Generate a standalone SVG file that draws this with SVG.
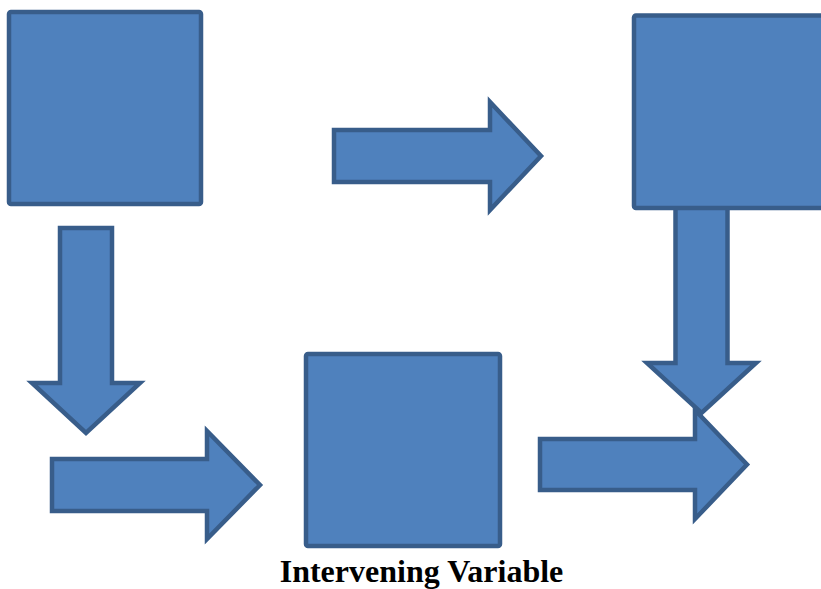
<svg xmlns="http://www.w3.org/2000/svg" width="821" height="589" viewBox="0 0 821 589">
  <style>
    .box { fill: #4F81BD; stroke: #385D8A; stroke-width: 4.5; }
    .arrow { fill: #4F81BD; stroke: #385D8A; stroke-width: 4.5; stroke-linejoin: miter; stroke-miterlimit: 10; }
    .label { font-family: "Liberation Serif", "Times New Roman", serif; font-weight: bold; font-size: 32px; fill: #000; }
  </style>
  <rect width="821" height="589" fill="#ffffff"/>

  <g id="connectors">
    <!-- top: left box to right box -->
    <path class="arrow" d="M334,130 H490 V102 L541,156 L490,210 V182 H334 Z"/>
    <!-- left box down -->
    <path class="arrow" d="M60,228 H112 V383 H140 L86,433 L32,383 H60 Z"/>
    <!-- into the intervening box -->
    <path class="arrow" d="M52,459 H207 V431 L260,485 L207,539 V511 H52 Z"/>
    <!-- out of the intervening box -->
    <path class="arrow" d="M540,439 H695 V410 L747,464.5 L695,519 V490 H540 Z"/>
    <!-- right box down -->
    <path class="arrow" d="M675.5,206 H727.5 V363 H756 L701.5,413 L647,363 H675.5 Z"/>
  </g>

  <g id="node-top-left">
    <rect class="box" x="9" y="12" width="192" height="192" rx="2"/>
  </g>

  <g id="node-top-right">
    <rect class="box" x="634" y="15.5" width="194" height="192.5" rx="2"/>
  </g>

  <g id="node-intervening">
    <rect class="box" x="306" y="354" width="194" height="192" rx="2"/>
    <text class="label" x="421.5" y="582" text-anchor="middle">Intervening Variable</text>
  </g>
</svg>
